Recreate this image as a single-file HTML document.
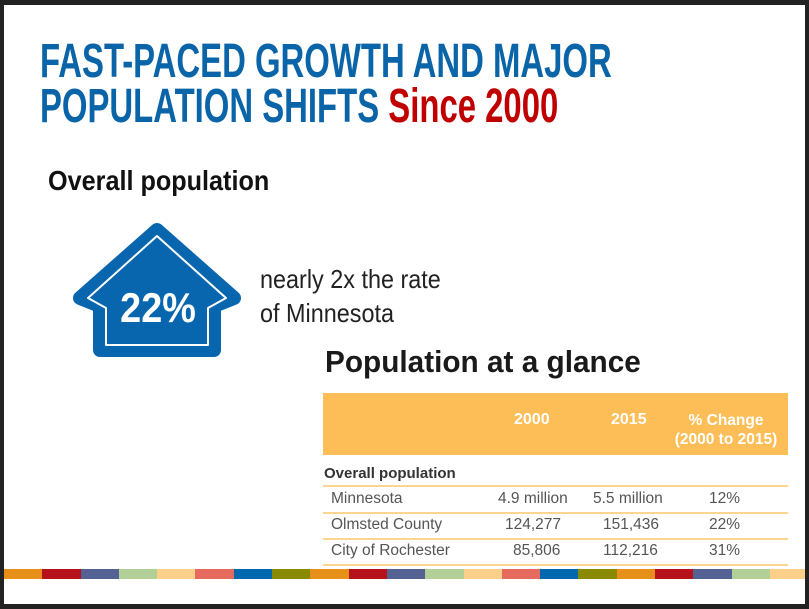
<!DOCTYPE html>
<html><head><meta charset="utf-8"><style>
html,body{margin:0;padding:0}
body{width:809px;height:609px;background:#222;position:relative;overflow:hidden;font-family:"Liberation Sans",sans-serif}
.page{position:absolute;left:4px;top:5px;width:801px;height:599px;background:#fff}
.t{position:absolute;white-space:nowrap}
.title{font-weight:bold;font-size:48px;color:#0a64a8;left:40px;transform:scaleX(0.685);transform-origin:0 0}
.n{transform:scaleX(0.9);transform-origin:0 0}
.row{position:absolute;left:323px;width:465px;height:26px;border-bottom:2px solid #fdd58e;font-size:15.5px;color:#555}
.row span{position:absolute;top:4px}
.stripe{position:absolute;left:4px;top:569px;width:801px;height:10px;display:flex;overflow:hidden}
.stripe div{flex:0 0 38.3px}
</style></head><body>
<div class="page"></div>
<div class="t title" style="top:34px">FAST-PACED GROWTH AND MAJOR</div>
<div class="t title" style="top:79px">POPULATION SHIFTS <span style="color:#c00000">Since 2000</span></div>
<div class="t n" style="left:48px;top:165px;font-size:28px;font-weight:bold;color:#111">Overall population</div>
<svg style="position:absolute;left:0;top:0" width="809" height="609">
<path d="M157,230 L80,298 L100,306 L100,350 L214,350 L214,306 L234,298 Z" fill="#0866ae" stroke="#0866ae" stroke-width="14" stroke-linejoin="round"/>
<path d="M157,236 L88,298 L106,308 L106,345 L208,345 L208,308 L226,298 Z" fill="none" stroke="#fff" stroke-width="2" stroke-linejoin="round"/>
<text x="158" y="322" text-anchor="middle" font-family="Liberation Sans, sans-serif" font-weight="bold" font-size="42" fill="#fff" transform="translate(158 0) scale(0.9 1) translate(-158 0)">22%</text>
</svg>
<div class="t n" style="left:260px;top:264px;font-size:26px;color:#222">nearly 2x the rate</div>
<div class="t n" style="left:260px;top:298px;font-size:26px;color:#222">of Minnesota</div>
<div class="t" style="left:325px;top:344px;font-size:31px;font-weight:bold;color:#1a1a1a;transform:scaleX(0.96);transform-origin:0 0">Population at a glance</div>
<div style="position:absolute;left:323px;top:393px;width:465px;height:62px;background:#fdbe57"></div>
<div class="t" style="left:514px;top:411px;font-size:16px;font-weight:bold;color:#fff">2000</div>
<div class="t" style="left:611px;top:411px;font-size:16px;font-weight:bold;color:#fff">2015</div>
<div class="t" style="left:666px;top:411px;width:120px;text-align:center;font-size:15.5px;font-weight:bold;color:#fff;line-height:19px">% Change<br>(2000 to 2015)</div>
<div class="t" style="left:324px;top:465px;font-size:15px;font-weight:bold;color:#333">Overall population</div>
<div class="row" style="top:459px"></div>
<div class="row" style="top:486px"><span style="left:8px">Minnesota</span><span style="left:175px">4.9 million</span><span style="left:270px">5.5 million</span><span style="left:386px">12%</span></div>
<div class="row" style="top:512px"><span style="left:8px">Olmsted County</span><span style="left:182px">124,277</span><span style="left:280px">151,436</span><span style="left:386px">22%</span></div>
<div class="row" style="top:538px"><span style="left:8px">City of Rochester</span><span style="left:190px">85,806</span><span style="left:280px">112,216</span><span style="left:386px">31%</span></div>
<div class="stripe">
<div style="background:#e6901a"></div><div style="background:#b5121b"></div><div style="background:#536193"></div><div style="background:#b3cf98"></div><div style="background:#fdd089"></div><div style="background:#e76a5e"></div><div style="background:#0068ae"></div><div style="background:#8a8a00"></div>
<div style="background:#e6901a"></div><div style="background:#b5121b"></div><div style="background:#536193"></div><div style="background:#b3cf98"></div><div style="background:#fdd089"></div><div style="background:#e76a5e"></div><div style="background:#0068ae"></div><div style="background:#8a8a00"></div>
<div style="background:#e6901a"></div><div style="background:#b5121b"></div><div style="background:#536193"></div><div style="background:#b3cf98"></div><div style="background:#fdd089"></div><div style="background:#fdd089"></div>
</div>
</body></html>
